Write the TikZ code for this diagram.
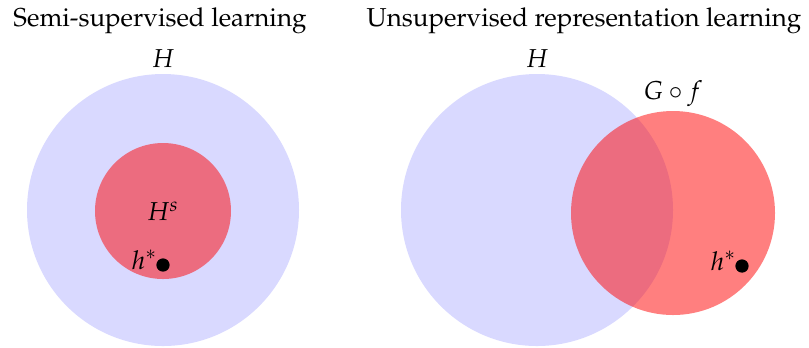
\documentclass[tikz,border=0pt]{standalone}
\usepackage[T1]{fontenc}
\usepackage{mathpazo}
\usetikzlibrary{positioning}
\definecolor{hypblue}{HTML}{D9D9FF}
\definecolor{subred}{HTML}{FF0000}

\begin{document}
\begin{tikzpicture}[
    x=0.01357cm, y=-0.01357cm,
    hyp/.style={fill=hypblue},
    sub/.style={fill=subred, fill opacity=0.5},
    dot/.style={circle, fill=black, inner sep=0pt, minimum size=0.18cm},
    lbl/.style={inner sep=1pt}
]
    \useasboundingbox (0,0) rectangle (809,347);

    % Semi-supervised (left)
    \node[lbl] (titleL) at (160,21) {Semi-supervised learning};
    \fill[hyp] (163,210) circle [radius=136];
    \fill[sub] (163,211) circle [radius=68];
    \node[lbl] (HL) at (163,59) {$H$};
    \node[lbl] (Hs) at (163,211) {$H^s$};
    \node[dot] (starL) at (163,265) {};
    \node[lbl, left=-1pt of starL.north west, anchor=north east, yshift=5pt] (hL) {$h^*$};

    % Unsupervised representation (right)
    \node[lbl] (titleR) at (584,21) {Unsupervised representation learning};
    \fill[hyp] (537,210) circle [radius=136];
    \fill[sub] (673,213) circle [radius=102];
    \node[lbl] (HR) at (537,59) {$H$};
    \node[lbl] (Gf) at (673,94) {$G\circ f$};
    \node[dot] (starR) at (742,266) {};
    \node[lbl, left=-1pt of starR.north west, anchor=north east, yshift=5pt] (hR) {$h^*$};

\end{tikzpicture}
\end{document}
